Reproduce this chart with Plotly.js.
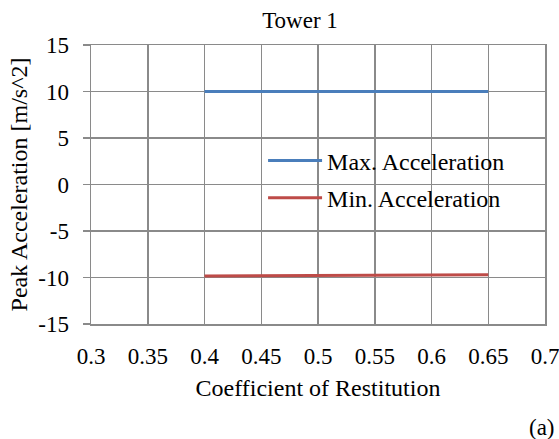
<!DOCTYPE html>
<html>
<head>
<meta charset="utf-8">
<script src="https://cdn.plot.ly/plotly-3.0.1.min.js"></script>
<style>html,body{margin:0;padding:0;background:#fff;}#chart{width:559px;height:439px;}</style>
</head>
<body>
<div id="chart"></div>
<script>
var restitution = [0.4, 0.45, 0.5, 0.55, 0.6, 0.65];
var maxAcceleration = [10.0, 10.0, 10.0, 10.0, 10.0, 10.0];
var minAcceleration = [-9.83, -9.80, -9.77, -9.75, -9.72, -9.70];
var xTicks = [0.3, 0.35, 0.4, 0.45, 0.5, 0.55, 0.6, 0.65, 0.7];
var xTickLabels = ['0.3', '0.35', '0.4', '0.45', '0.5', '0.55', '0.6', '0.65', '0.7'];
var yTicks = [-15, -10, -5, 0, 5, 10, 15];
var yTickLabels = ['-15', '-10', '-5', '0', '5', '10', '15'];

var FONT = 'Liberation Serif';
var GRID = '#8a8a8a';

var traces = [
  {x: restitution, y: maxAcceleration, name: 'Max. Acceleration', mode: 'lines',
   legendgroup: 'a', line: {color: '#4a7ebb', width: 3}},
  {x: restitution, y: minAcceleration, name: 'Min. Acceleration', mode: 'lines',
   legendgroup: 'b', line: {color: '#be4b48', width: 3}}
];

var layout = {
  width: 559, height: 439,
  margin: {l: 91, r: 14, t: 45, b: 115},
  paper_bgcolor: '#fff', plot_bgcolor: '#fff',
  font: {family: FONT, size: 23, color: '#000'},
  title: {text: 'Tower 1', font: {family: FONT, size: 23, color: '#000'},
          x: 300 / 559, xanchor: 'center', xref: 'container', y: 0.955, yanchor: 'middle', yref: 'container'},
  xaxis: {
    range: [0.3, 0.7], tickvals: xTicks, ticktext: xTickLabels,
    showgrid: true, gridcolor: GRID, gridwidth: 1.5,
    showline: true, linecolor: GRID, linewidth: 1.5, mirror: true,
    zeroline: false, ticks: '', ticklabelstandoff: 11, ticklabeloverflow: 'allow',
    tickfont: {family: FONT, size: 23, color: '#000'},
    title: {text: 'Coefficient of Restitution', font: {family: FONT, size: 24, color: '#000'}, standoff: 11}
  },
  yaxis: {
    range: [-15, 15], tickvals: yTicks, ticktext: yTickLabels,
    showgrid: true, gridcolor: GRID, gridwidth: 1.5,
    showline: true, linecolor: GRID, linewidth: 1.5, mirror: true,
    zeroline: false, ticks: 'outside', ticklen: 7, tickcolor: GRID, tickwidth: 1.5,
    ticklabelstandoff: 9, ticklabeloverflow: 'allow',
    tickfont: {family: FONT, size: 23, color: '#000'},
    title: {text: 'Peak Acceleration [m/s^2]', font: {family: FONT, size: 24, color: '#000'}, standoff: 4}
  },
  showlegend: true,
  legend: {
    x: 0.379, xanchor: 'left', y: 0.665, yanchor: 'top',
    bgcolor: 'rgba(0,0,0,0)', borderwidth: 0,
    font: {family: FONT, size: 24, color: '#000'},
    traceorder: 'grouped', tracegroupgap: 3, itemwidth: 54
  },
  annotations: [
    {text: '(a)', xref: 'paper', yref: 'paper', x: 1.0, y: -0.37, xanchor: 'center', yanchor: 'middle',
     xshift: -3, showarrow: false, font: {family: FONT, size: 23, color: '#000'}}
  ]
};

Plotly.newPlot('chart', traces, layout, {displayModeBar: false, staticPlot: true}).then(function (gd) {
  var paths = gd.querySelectorAll('.legend path.js-line');
  paths.forEach(function (p) { p.setAttribute('d', 'M5,0h54'); });
});
</script>
</body>
</html>
